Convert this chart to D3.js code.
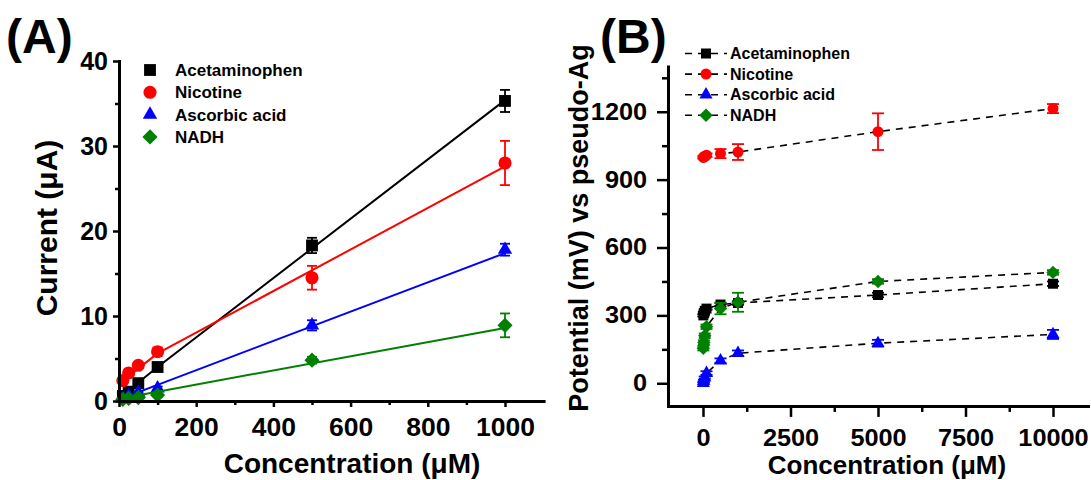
<!DOCTYPE html>
<html>
<head>
<meta charset="utf-8">
<script src="https://cdn.jsdelivr.net/npm/d3@7"></script>
<style>
  body { margin: 0; background: #fff; }
  svg text { font-family: "Liberation Sans", Arial, Helvetica, sans-serif; font-weight: bold; fill: #000; }
</style>
</head>
<body>
<svg id="chart" width="1091" height="480"></svg>
<script>
// ---- shared series definitions ----
const seriesNames = ["Acetaminophen", "Nicotine", "Ascorbic acid", "NADH"];
const seriesColors = ["#000000", "#ff0000", "#0000ff", "#008000"];

// ---- panel A: current vs concentration (µM) ----
const concA = [10, 25, 50, 100, 500, 1000];
const currentAcetaminophen = [0.6, 1.1, 2.1, 4.0, 18.3, 35.3];
const currentNicotine      = [2.4, 3.3, 4.2, 5.8, 14.5, 28.0];
const currentAscorbic      = [0.3, 0.6, 1.0, 1.5, 8.9, 17.8];
const currentNADH          = [0.2, 0.3, 0.4, 0.7, 4.8, 8.9];
const errAcetaminophen = [0.1, 0.1, 0.2, 0.4, 0.9, 1.3];
const errNicotine      = [0.2, 0.2, 0.3, 0.5, 1.4, 2.6];
const errAscorbic      = [0.1, 0.1, 0.1, 0.2, 0.6, 0.7];
const errNADH          = [0.1, 0.1, 0.1, 0.2, 0.4, 1.4];
// linear calibration lines
const fitConcA = [10, 100, 1000];
const fitAcetaminophen = [0.7, 4.0, 35.4];
const fitNicotine      = [2.4, 5.6, 27.6];
const fitAscorbic      = [0.35, 1.9, 17.4];
const fitNADH          = [0.35, 1.1, 8.6];
const xTicksA = [0, 200, 400, 600, 800, 1000];
const yTicksA = [0, 10, 20, 30, 40];

// ---- panel B: potential vs concentration (µM) ----
const concB = [10, 25, 50, 100, 500, 1000, 5000, 10000];
const potAcetaminophen = [300, 310, 320, 330, 348, 355, 390, 440];
const potNicotine      = [998, 1000, 1003, 1008, 1015, 1022, 1112, 1214];
const potAscorbic      = [0, 10, 25, 45, 100, 133, 177, 216];
const potNADH          = [155, 180, 210, 250, 330, 358, 450, 490];
const errPotAcetaminophen = [5, 5, 5, 5, 8, 8, 10, 10];
const errPotNicotine      = [5, 5, 5, 8, 20, 35, 81, 20];
const errPotAscorbic      = [5, 5, 5, 8, 10, 12, 15, 20];
const errPotNADH          = [10, 10, 10, 10, 25, 42, 10, 10];
const xTicksB = [0, 2500, 5000, 7500, 10000];
const yTicksB = [0, 300, 600, 900, 1200];

const svg = d3.select("#chart");

const symbolTypes = [d3.symbolSquare, d3.symbolCircle, d3.symbolTriangle, d3.symbolSquare];
const symbolRotate = [0, 0, 0, 45];
const intFormat = d3.format("d");

function drawAxes(g, x, y, opt) {
  // minor ticks
  g.append("g").attr("transform", `translate(0,${y.range()[0]})`)
    .call(d3.axisBottom(x).tickValues(opt.xMinor).tickSize(opt.minor).tickFormat(""))
    .call(s => s.select(".domain").remove())
    .call(s => s.selectAll("line").attr("stroke-width", 2.5));
  g.append("g").attr("transform", `translate(${x.range()[0]},0)`)
    .call(d3.axisLeft(y).tickValues(opt.yMinor).tickSize(opt.minor).tickFormat(""))
    .call(s => s.select(".domain").remove())
    .call(s => s.selectAll("line").attr("stroke-width", 2.5));

  const gx = g.append("g").attr("transform", `translate(0,${y.range()[0]})`)
    .call(d3.axisBottom(x).tickValues(opt.xTicks).tickFormat(intFormat)
      .tickSize(opt.major).tickSizeOuter(0).tickPadding(opt.xPad));
  const gy = g.append("g").attr("transform", `translate(${x.range()[0]},0)`)
    .call(d3.axisLeft(y).tickValues(opt.yTicks).tickFormat(intFormat)
      .tickSize(opt.major).tickSizeOuter(0).tickPadding(opt.yPad));
  [[gx, opt.sxX], [gy, opt.sxY]].forEach(([a, sx]) => {
    a.select(".domain").attr("stroke-width", 3).attr("stroke-linecap", "square");
    a.selectAll(".tick line").attr("stroke-width", 2.5);
    a.selectAll(".tick text")
      .attr("font-size", opt.font)
      .attr("font-family", null)
      .attr("transform", `scale(${sx},1)`);
  });
}

function drawErrors(g, x, y, xs, ys, es, color, cap) {
  const eg = g.append("g").attr("stroke", color).attr("stroke-width", 1.8);
  xs.forEach((xv, i) => {
    const px = x(xv), top = y(ys[i] + es[i]), bot = y(ys[i] - es[i]);
    eg.append("line").attr("x1", px).attr("x2", px).attr("y1", top).attr("y2", bot);
    eg.append("line").attr("x1", px - cap).attr("x2", px + cap).attr("y1", top).attr("y2", top);
    eg.append("line").attr("x1", px - cap).attr("x2", px + cap).attr("y1", bot).attr("y2", bot);
  });
}

function drawMarkers(g, x, y, xs, ys, idx, sizes) {
  const sym = d3.symbol().type(symbolTypes[idx]).size(sizes[idx]);
  g.append("g").selectAll("path").data(xs).join("path")
    .attr("d", sym)
    .attr("fill", seriesColors[idx])
    .attr("transform", (d, i) => `translate(${x(d)},${y(ys[i])}) rotate(${symbolRotate[idx]})`);
}

// ================= Panel A =================
{
  const x = d3.scaleLinear().domain([0, 1100]).range([119, 543.6]);
  const y = d3.scaleLinear().domain([0, 40]).range([401, 61]);
  const g = svg.append("g");
  const sizesA = [140, 135, 90, 115];

  const vals = [currentAcetaminophen, currentNicotine, currentAscorbic, currentNADH];
  const errs = [errAcetaminophen, errNicotine, errAscorbic, errNADH];
  const fits = [fitAcetaminophen, fitNicotine, fitAscorbic, fitNADH];
  const line = d3.line().x(d => x(d[0])).y(d => y(d[1]));

  vals.forEach((v, i) => {
    g.append("path")
      .attr("d", line(fitConcA.map((c, k) => [c, fits[i][k]])))
      .attr("fill", "none").attr("stroke", seriesColors[i]).attr("stroke-width", 2);
    drawErrors(g, x, y, concA, v, errs[i], seriesColors[i], 5);
    drawMarkers(g, x, y, concA, v, i, sizesA);
  });

  drawAxes(g, x, y, {
    xTicks: xTicksA, yTicks: yTicksA,
    xMinor: [100, 300, 500, 700, 900], yMinor: [5, 15, 25, 35],
    major: 6, minor: 4, xPad: 11, yPad: 5, font: 25, sxX: 1.06, sxY: 1.0
  });

  // legend
  const lg = g.append("g");
  seriesNames.forEach((name, i) => {
    const ly = 70 + i * 22.3;
    lg.append("path")
      .attr("d", d3.symbol().type(symbolTypes[i]).size(sizesA[i])())
      .attr("fill", seriesColors[i])
      .attr("transform", `translate(150,${ly}) rotate(${symbolRotate[i]})`);
    lg.append("text").attr("x", 175).attr("y", ly).attr("dy", "0.36em")
      .attr("font-size", 17).text(name);
  });

  g.append("text").attr("x", 352).attr("y", 473).attr("text-anchor", "middle")
    .attr("font-size", 28).text("Concentration (\u03BCM)");
  g.append("text").attr("transform", "translate(57,228) rotate(-90)").attr("text-anchor", "middle")
    .attr("font-size", 30).text("Current (\u03BCA)");
  g.append("text").attr("x", 6).attr("y", 53).attr("font-size", 48).text("(A)");
}

// ================= Panel B =================
{
  const x = d3.scaleLinear().domain([-1000, 11000]).range([668, 1088]);
  const y = d3.scaleLinear().domain([-100, 1400]).range([405.9, 66.5]);
  const g = svg.append("g");
  const sizesB = [100, 95, 75, 90];

  const vals = [potAcetaminophen, potNicotine, potAscorbic, potNADH];
  const errs = [errPotAcetaminophen, errPotNicotine, errPotAscorbic, errPotNADH];
  const line = d3.line().x(d => x(d[0])).y(d => y(d[1]));

  vals.forEach((v, i) => {
    g.append("path")
      .attr("d", line(concB.map((c, k) => [c, v[k]])))
      .attr("fill", "none").attr("stroke", "#000").attr("stroke-width", 1.6)
      .attr("stroke-dasharray", "7,6");
  });
  vals.forEach((v, i) => {
    drawErrors(g, x, y, concB, v, errs[i], seriesColors[i], 6);
    drawMarkers(g, x, y, concB, v, i, sizesB);
  });

  drawAxes(g, x, y, {
    xTicks: xTicksB, yTicks: yTicksB,
    xMinor: [1250, 3750, 6250, 8750], yMinor: [150, 450, 750, 1050, 1350],
    major: 11, minor: 6, xPad: 13, yPad: 8, font: 23, sxX: 1.1, sxY: 1.1
  });

  // legend
  const lg = g.append("g");
  seriesNames.forEach((name, i) => {
    const ly = 53.5 + i * 20.6;
    lg.append("line").attr("x1", 685).attr("x2", 727).attr("y1", ly).attr("y2", ly)
      .attr("stroke", "#000").attr("stroke-width", 1.6).attr("stroke-dasharray", "7,6");
    lg.append("path")
      .attr("d", d3.symbol().type(symbolTypes[i]).size(sizesB[i])())
      .attr("fill", seriesColors[i])
      .attr("transform", `translate(706,${ly}) rotate(${symbolRotate[i]})`);
    lg.append("text").attr("x", 730).attr("y", ly).attr("dy", "0.36em")
      .attr("font-size", 16).text(name);
  });

  g.append("text").attr("x", 887).attr("y", 474).attr("text-anchor", "middle")
    .attr("font-size", 26).text("Concentration (\u03BCM)");
  g.append("text").attr("transform", "translate(588,228) rotate(-90)").attr("text-anchor", "middle")
    .attr("font-size", 27).text("Potential (mV) vs pseudo-Ag");
  g.append("text").attr("x", 600).attr("y", 53).attr("font-size", 48).text("(B)");
}
</script>
</body>
</html>
